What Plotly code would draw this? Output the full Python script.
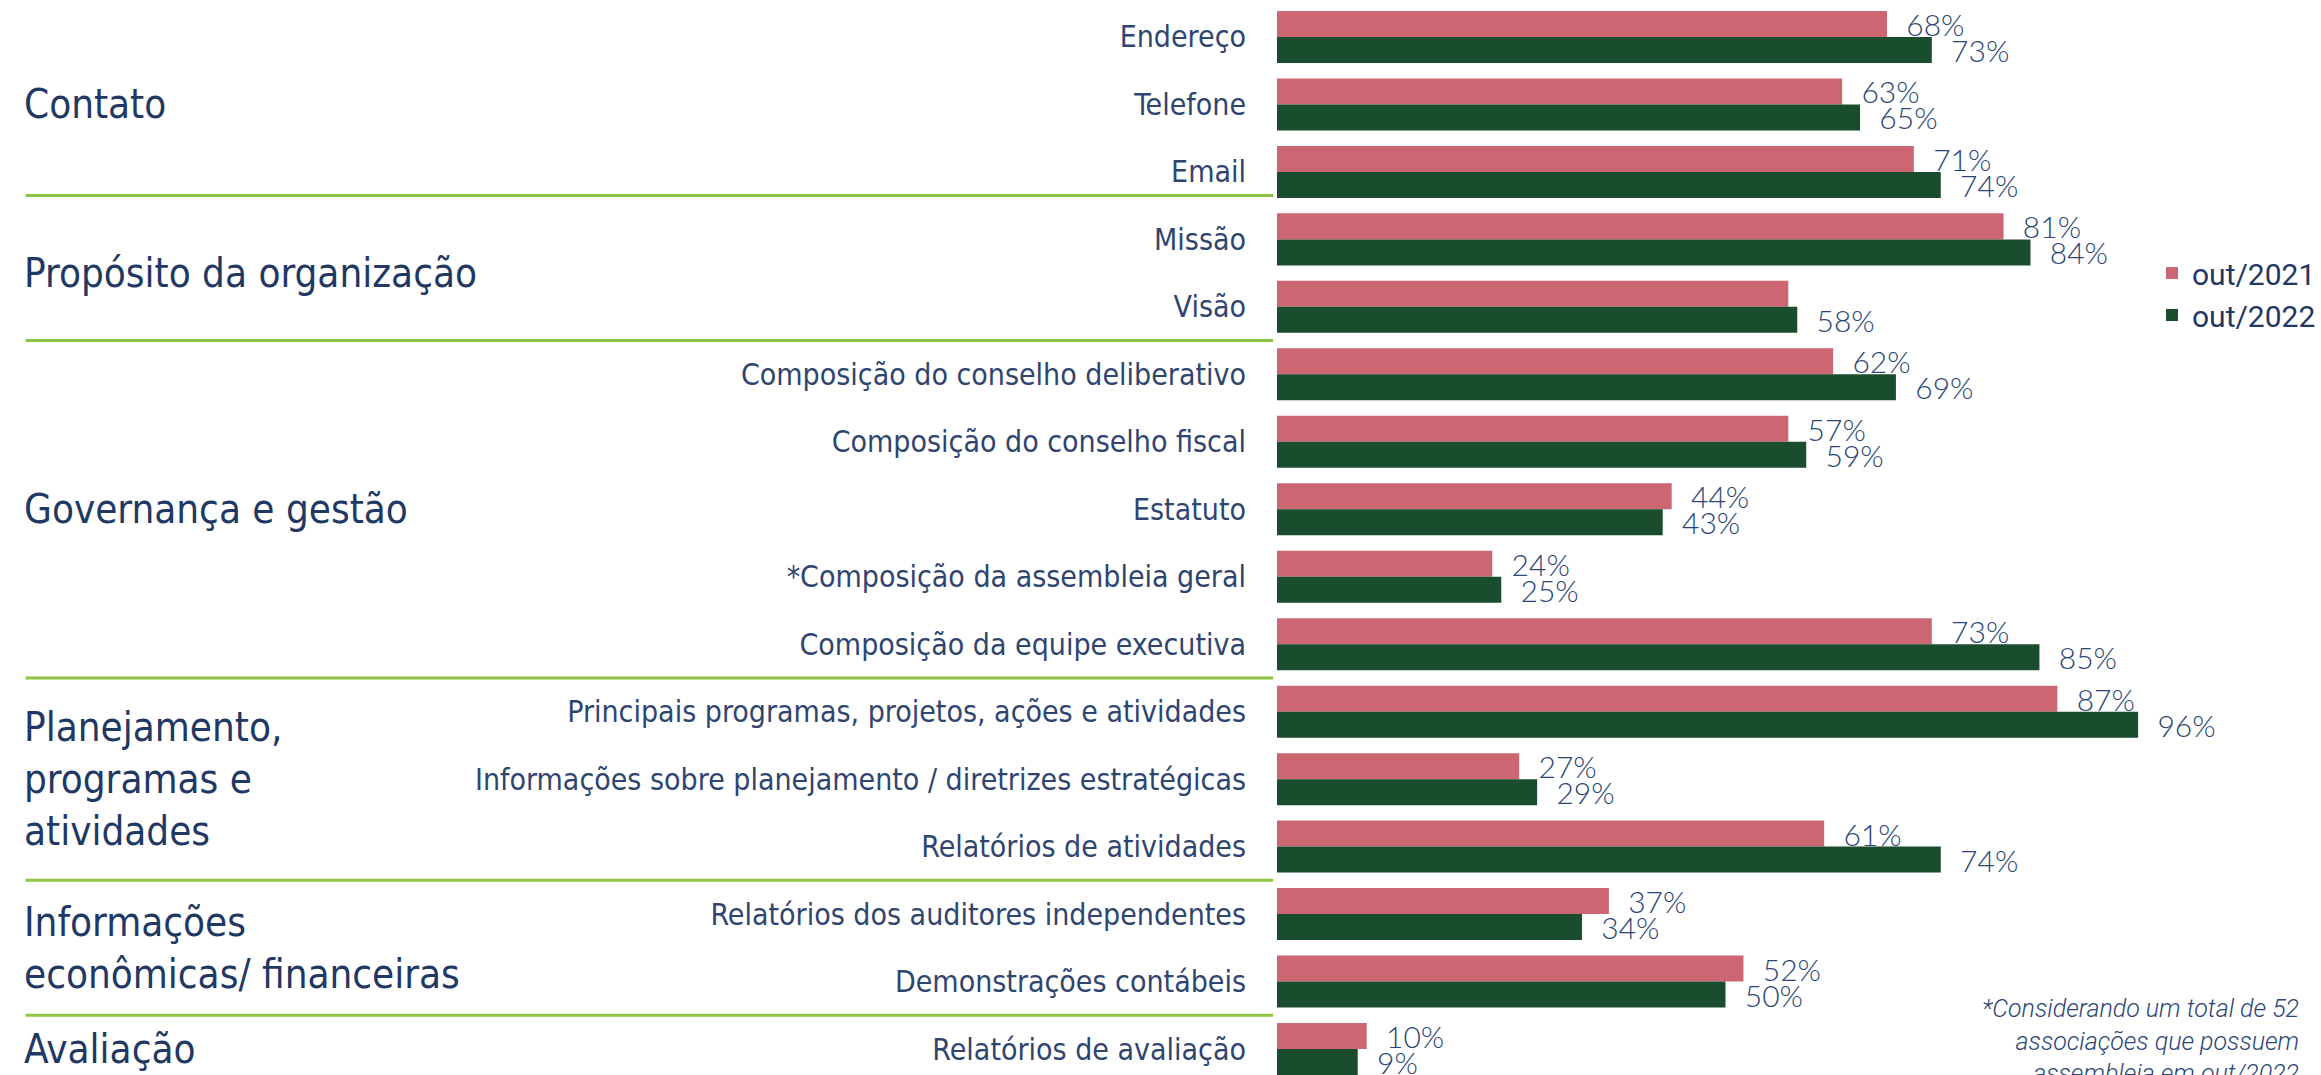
import plotly.graph_objects as go

# ---------------- data ----------------
categories = [
    "Endereço", "Telefone", "Email",
    "Missão", "Visão",
    "Composição do conselho deliberativo", "Composição do conselho fiscal", "Estatuto",
    "*Composição da assembleia geral", "Composição da equipe executiva",
    "Principais programas, projetos, ações e atividades",
    "Informações sobre planejamento / diretrizes estratégicas",
    "Relatórios de atividades",
    "Relatórios dos auditores independentes", "Demonstrações contábeis",
    "Relatórios de avaliação",
]
values_2021 = [68, 63, 71, 81, 57, 62, 57, 44, 24, 73, 87, 27, 61, 37, 52, 10]
values_2022 = [73, 65, 74, 84, 58, 69, 59, 43, 25, 85, 96, 29, 74, 34, 50, 9]
series_names = ["out/2021", "out/2022"]
hidden_labels_2021 = ["Visão"]  # label not shown in the original

group_names = [
    "Contato",
    "Propósito da organização",
    "Governança e gestão",
    "Planejamento,<br>programas e<br>atividades",
    "Informações<br>econômicas/ financeiras",
    "Avaliação",
]
group_sizes = [3, 2, 5, 3, 2, 1]
separator_offsets = [0.35, 0.5, 0.5, 0.5, 0.5]

footnote = "*Considerando um total de 52<br>associações que possuem<br>assembleia em out/2022"

# ---------------- style ----------------
W, H = 2321, 1075
PINK = "#CC6673"
GREEN = "#1A4D2E"
LINE_GREEN = "#8DC63F"
NAVY = "#1F3864"
LABEL_COL = "#2F4570"
VALUE_COL = "#2B4676"
COND = "Liberation Sans Narrow, DejaVu Sans Condensed, Roboto, sans-serif"

NBSP = "\u00a0"


def lab(vals, cats, hidden):
    return ["" if c in hidden else f"{NBSP}{NBSP}{v}%" for v, c in zip(vals, cats)]


fig = go.Figure()
for name, vals, col, hidden in [
    (series_names[0], values_2021, PINK, hidden_labels_2021),
    (series_names[1], values_2022, GREEN, []),
]:
    fig.add_trace(go.Bar(
        name=name, y=categories, x=vals, orientation="h",
        marker=dict(color=col, line=dict(width=0)),
        text=lab(vals, categories, hidden), textposition="outside",
        constraintext="none", cliponaxis=False,
        textfont=dict(family="Lato, Roboto, sans-serif", size=30, color=VALUE_COL, weight=300),
        hoverinfo="x+y",
    ))

pitch_top_idx = -0.548
pitch_bot_idx = 15.385

fig.update_layout(
    width=W, height=H,
    margin=dict(l=1277, r=143, t=0, b=0),
    paper_bgcolor="white", plot_bgcolor="white",
    barmode="group", bargap=0.229, bargroupgap=0,
    showlegend=True,
    legend=dict(
        x=(2156 - 1277) / 901, xanchor="left",
        y=1 - 247 / H, yanchor="top",
        font=dict(family="Roboto, sans-serif", size=30, color=NAVY),
        bgcolor="rgba(0,0,0,0)", borderwidth=0,
        itemclick=False, itemdoubleclick=False,
    ),
    xaxis=dict(range=[0, 100], visible=False, fixedrange=True),
    yaxis=dict(
        type="category", categoryorder="array", categoryarray=categories,
        range=[pitch_bot_idx, pitch_top_idx],
        showgrid=False, zeroline=False, showline=False, ticks="",
        ticklabelstandoff=30,
        tickfont=dict(family=COND, size=30, color=LABEL_COL, weight=300),
        fixedrange=True,
    ),
)

# group labels and separator lines
start = 0
shapes = []
annotations = []
for gi, (gname, gsize) in enumerate(zip(group_names, group_sizes)):
    center = start + (gsize - 1) / 2
    annotations.append(dict(
        text=gname, xref="paper", yref="y", x=(16 - 1277) / 901, y=center,
        xanchor="left", yanchor="middle", align="left", showarrow=False,
        font=dict(family=COND, size=40, color=NAVY),
    ))
    end = start + gsize
    if gi < len(group_sizes) - 1:
        ly = end - 1 + separator_offsets[gi]
        shapes.append(dict(
            type="line", xref="paper", yref="y",
            x0=(20 - 1277) / 901, x1=(1273 - 1277) / 901, y0=ly, y1=ly,
            line=dict(color=LINE_GREEN, width=3),
        ))
    start = end

annotations.append(dict(
    text=footnote, xref="paper", yref="paper",
    x=(2306 - 1277) / 901, y=1 - 992 / H, xanchor="right", yanchor="top",
    align="right", showarrow=False,
    font=dict(family="Roboto, sans-serif", size=25, color=VALUE_COL, style="italic", weight=300),
))

fig.update_layout(shapes=shapes, annotations=annotations)

fig.write_html("out.html", config={"displayModeBar": False},
               post_script="document.body.style.margin='0';")
